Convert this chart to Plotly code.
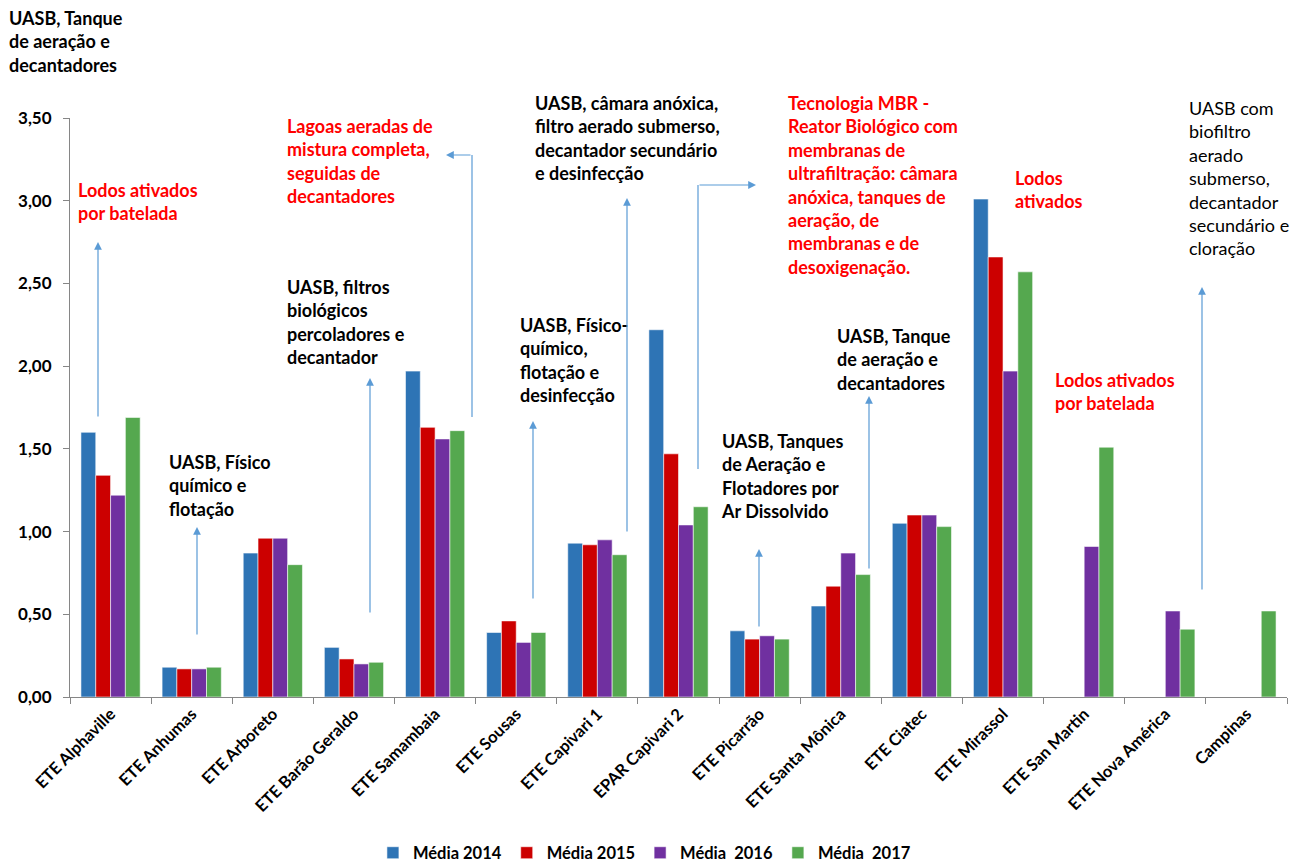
import plotly.graph_objects as go

# Estações de tratamento
categorias = ["ETE Alphaville", "ETE Anhumas", "ETE Arboreto", "ETE Barão Geraldo",
              "ETE Samambaia", "ETE Sousas", "ETE Capivari 1", "EPAR Capivari 2",
              "ETE Picarrão", "ETE Santa Mônica", "ETE Ciatec", "ETE Mirassol",
              "ETE San Martin", "ETE Nova América", "Campinas"]

media_2014 = [1.60, 0.18, 0.87, 0.30, 1.97, 0.39, 0.93, 2.22, 0.40, 0.55, 1.05, 3.01, None, None, None]
media_2015 = [1.34, 0.17, 0.96, 0.23, 1.63, 0.46, 0.92, 1.47, 0.35, 0.67, 1.10, 2.66, None, None, None]
media_2016 = [1.22, 0.17, 0.96, 0.20, 1.56, 0.33, 0.95, 1.04, 0.37, 0.87, 1.10, 1.97, 0.91, 0.52, None]
media_2017 = [1.69, 0.18, 0.80, 0.21, 1.61, 0.39, 0.86, 1.15, 0.35, 0.74, 1.03, 2.57, 1.51, 0.41, 0.52]

series = [
    ("Média 2014", media_2014, "#2E74B5"),
    ("Média 2015", media_2015, "#CC0000"),
    ("Média\u00a0 2016", media_2016, "#7030A0"),
    ("Média\u00a0 2017", media_2017, "#55A84F"),
]

W, H = 1307, 863
M_L, M_R, M_T, M_B = 70, 20, 118, 166
PW, PH = W - M_L - M_R, H - M_T - M_B
FONT = "Lato, 'Open Sans', sans-serif"
ARROW = "#5B9BD5"


def px(xp):
    return (xp - M_L) / PW


def py(yp):
    return (H - M_B - yp) / PH


fig = go.Figure()
for nome, vals, cor in series:
    fig.add_trace(go.Bar(
        x=categorias, y=vals, name=nome,
        marker=dict(color=cor, line=dict(color="rgba(255,255,255,0.7)", width=0.8)),
    ))

# Descrições dos processos de tratamento
textos = [
    ("UASB, Tanque<br>de aeração e<br>decantadores", 7, 5, "#000000", True),
    ("Lodos ativados<br>por batelada", 76, 177, "#FF0000", True),
    ("UASB, Físico<br>químico e<br>flotação", 167, 449, "#000000", True),
    ("UASB, filtros<br>biológicos<br>percoladores e<br>decantador", 285, 274, "#000000", True),
    ("Lagoas aeradas de<br>mistura completa,<br>seguidas de<br>decantadores", 285, 113, "#FF0000", True),
    ("UASB, Físico-<br>químico,<br>flotação e<br>desinfecção", 518, 312, "#000000", True),
    ("UASB, câmara anóxica,<br>filtro aerado submerso,<br>decantador secundário<br>e desinfecção", 533, 90, "#000000", True),
    ("Tecnologia MBR -<br>Reator Biológico com<br>membranas de<br>ultrafiltração: câmara<br>anóxica, tanques de<br>aeração, de<br>membranas e de<br>desoxigenação.", 786, 90, "#FF0000", True),
    ("UASB, Tanques<br>de Aeração e<br>Flotadores por<br>Ar Dissolvido", 719, 428, "#000000", True),
    ("UASB, Tanque<br>de aeração e<br>decantadores", 835, 323, "#000000", True),
    ("Lodos<br>ativados", 1013, 165, "#FF0000", True),
    ("Lodos ativados<br>por batelada", 1053, 367, "#FF0000", True),
    ("UASB com<br>biofiltro<br>aerado<br>submerso,<br>decantador<br>secundário e<br>cloração", 1187, 95, "#000000", False),
]

anotacoes = []
for txt, xp, yp, cor, negrito in textos:
    anotacoes.append(dict(
        text=f"<b>{txt}</b>" if negrito else txt,
        xref="paper", yref="paper", x=px(xp), y=py(yp),
        xanchor="left", yanchor="top", align="left", showarrow=False,
        font=dict(family=FONT, size=18, color=cor),
    ))

# Setas verticais: (x, topo, base)
setas = [(98, 242, 418), (197, 527, 636), (370, 378, 614), (533, 421, 600),
         (627, 198, 533), (759, 549, 628), (869, 396, 570), (1202, 287, 591)]
for xs, y_topo, y_base in setas:
    anotacoes.append(dict(
        text="", xref="paper", yref="paper", x=px(xs), y=py(y_topo),
        ax=0, ay=y_base - y_topo, showarrow=True,
        arrowhead=2, arrowsize=1.3, arrowwidth=1.2, arrowcolor=ARROW,
    ))

# Setas em cotovelo
formas = [
    dict(type="line", xref="paper", yref="paper", x0=px(472), x1=px(472), y0=py(417), y1=py(155),
         line=dict(color=ARROW, width=1.2)),
    dict(type="line", xref="paper", yref="paper", x0=px(698), x1=px(698), y0=py(469), y1=py(185),
         line=dict(color=ARROW, width=1.2)),
]
anotacoes.append(dict(text="", xref="paper", yref="paper", x=px(446), y=py(155),
                      ax=472 - 446, ay=0, showarrow=True, arrowhead=2, arrowsize=1.3,
                      arrowwidth=1.2, arrowcolor=ARROW))
anotacoes.append(dict(text="", xref="paper", yref="paper", x=px(756), y=py(185),
                      ax=698 - 756, ay=0, showarrow=True, arrowhead=2, arrowsize=1.3,
                      arrowwidth=1.2, arrowcolor=ARROW))

fig.update_layout(
    width=W, height=H,
    margin=dict(l=M_L, r=M_R, t=M_T, b=M_B, autoexpand=False),
    paper_bgcolor="white", plot_bgcolor="white",
    barmode="group", bargap=0.27, bargroupgap=0,
    separators=",.",
    font=dict(family=FONT, color="#000000"),
    legend=dict(orientation="h", x=0.472, xanchor="center", y=py(853), yanchor="middle",
                font=dict(family=FONT, size=16.5, color="#000000", weight="bold"),
                itemwidth=30, tracegroupgap=0),
    annotations=anotacoes,
    shapes=formas,
    showlegend=True,
)
fig.update_xaxes(
    showline=True, linecolor="#868686", linewidth=1,
    ticks="outside", tickson="boundaries", ticklen=6, tickcolor="#868686",
    tickangle=-45, tickfont=dict(family=FONT, size=16.5, color="#000000", weight="bold"),
    showgrid=False,
)
fig.update_yaxes(
    range=[0, 3.5], dtick=0.5, tickformat=".2f",
    showline=True, linecolor="#868686", linewidth=1,
    ticks="outside", ticklen=6, tickcolor="#868686", ticklabelstandoff=8,
    tickfont=dict(family=FONT, size=17, color="#000000", weight="bold"),
    showgrid=False, zeroline=False,
)

fig.write_html("out.html")
